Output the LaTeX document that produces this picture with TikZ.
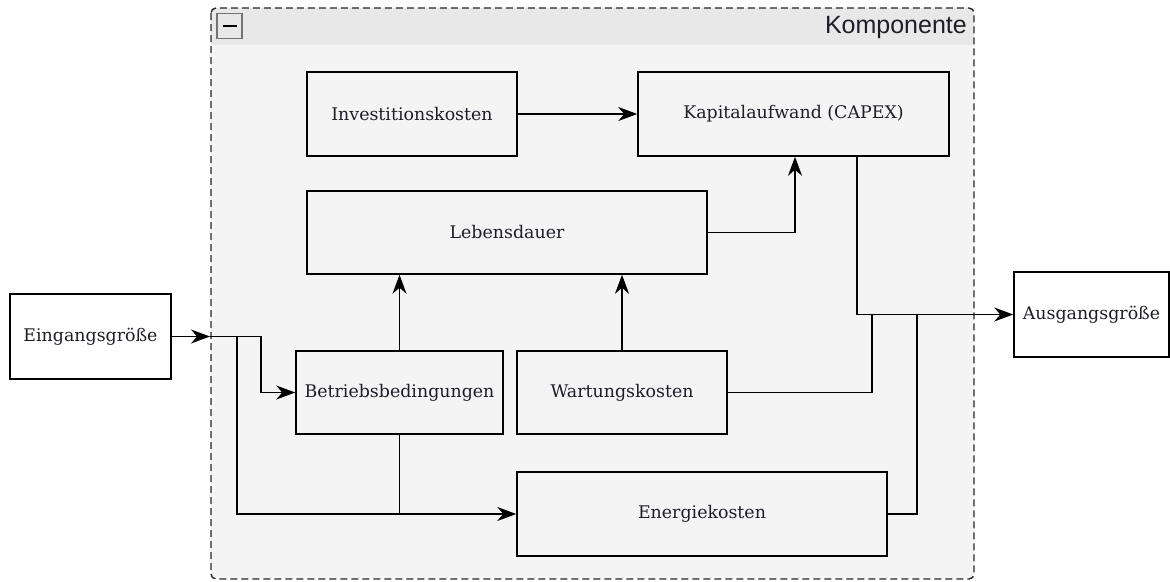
\documentclass[tikz,border=0pt]{standalone}
\usepackage{fontspec}
\setmainfont{DejaVu Serif}
\setsansfont{Liberation Sans}
\usetikzlibrary{arrows.meta}
\definecolor{hdr}{HTML}{E8E8E8}
\definecolor{bodyc}{HTML}{F4F4F4}
\definecolor{txt}{HTML}{1E1E2A}
\begin{document}
\begin{tikzpicture}[x=1pt,y=-1pt,
  box/.style={draw=black, line width=1.5pt, rectangle, inner sep=0pt, text=txt,
    font=\fontsize{17.4}{20}\selectfont},
  arr/.style={line width=1.6pt, -{Stealth[length=19pt,width=14pt,inset=6pt]}},
  wire/.style={line width=1.6pt}]
\useasboundingbox (0,0) rectangle (1170,581);
% container
\begin{scope}
  \clip[rounded corners=5pt] (211,8) rectangle (974,579);
  \fill[bodyc] (211,8) rectangle (974,579);
  \fill[hdr] (211,8) rectangle (974,45);
\end{scope}
\draw[line width=1.4pt, dash pattern=on 7pt off 4pt, rounded corners=5pt, draw=black!85] (211,8) rectangle (974,579);
\node[anchor=east, inner sep=0pt, text=txt, font=\sffamily\fontsize{25}{28}\selectfont] (ttl) at (967,27) {Komponente};
\node[draw=black!55, line width=1.4pt, fill=hdr, minimum size=25pt, inner sep=0pt] (tog) at (229.5,26) {};
\draw[line width=2.4pt] ([xshift=-7pt]tog.center) -- ([xshift=7pt]tog.center);
% nodes
\node[box, fill=white, minimum width=161pt, minimum height=85pt] (ein) at (90.5,336.5) {Eingangsgröße};
\node[box, fill=white, minimum width=155pt, minimum height=85pt] (aus) at (1091.5,314.5) {Ausgangsgröße};
\node[box, minimum width=210pt, minimum height=84pt] (inv) at (412,114) {Investitionskosten};
\node[box, minimum width=311pt, minimum height=84pt] (cap) at (793.5,114) {Kapitalaufwand (CAPEX)};
\node[box, minimum width=400pt, minimum height=83pt] (leb) at (507,232.5) {Lebensdauer};
\node[box, minimum width=207pt, minimum height=83pt] (bet) at (399.5,392.5) {Betriebsbedingungen};
\node[box, minimum width=210pt, minimum height=83pt] (war) at (622,392.5) {Wartungskosten};
\node[box, minimum width=370pt, minimum height=84pt] (ene) at (702,514) {Energiekosten};
% junction coordinates
\coordinate (j0) at (210,336.5);
\coordinate (j1) at (261,336.5);
\coordinate (j2) at (237,336.5);
\coordinate (cx) at (795,0);
\coordinate (ox) at (857,314.5);
\coordinate (wx) at (872,314.5);
\coordinate (ex) at (917,314.5);
% connectors
\draw[arr] (ein.east) -- (j0);
\draw[arr] (j0) -- (j1) |- (bet.west);
\draw[arr] (j2) |- (ene.west);
\draw[wire] (bet.south) -- (bet.south |- ene.west);
\draw[arr] (bet.north) -- (bet.north |- leb.south);
\draw[arr] (war.north) -- (war.north |- leb.south);
\draw[arr] (inv.east) -- (cap.west);
\draw[arr] (leb.east) -| (cx |- cap.south);
\draw[arr] (ox |- cap.south) -- (ox) -- (aus.west);
\draw[wire] (war.east) -| (wx);
\draw[wire] (ene.east) -| (ex);
\end{tikzpicture}
\end{document}
